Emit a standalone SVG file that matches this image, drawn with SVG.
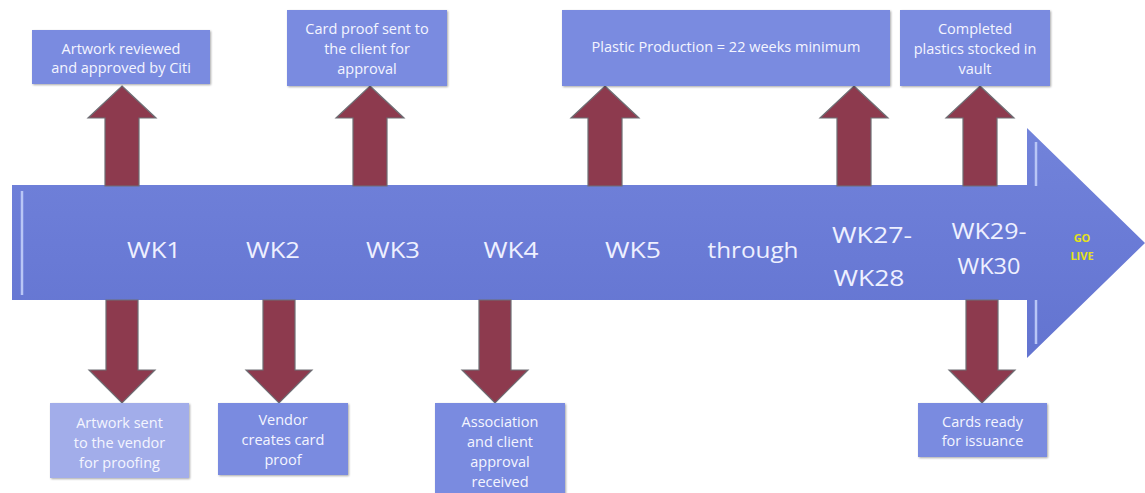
<svg xmlns="http://www.w3.org/2000/svg" width="1145" height="493" viewBox="0 0 1145 493">
  <defs>
    <linearGradient id="bodyGrad" x1="0" y1="0" x2="0" y2="1">
      <stop offset="0" stop-color="#7283da"/>
      <stop offset="0.5" stop-color="#6a7bd6"/>
      <stop offset="1" stop-color="#6374d0"/>
    </linearGradient>
    <path id="upArrow" d="M0,0 L34,32 L17,32 L17,100 L-17,100 L-17,32 L-34,32 Z"/>
    <path id="downArrow" d="M-16,0 L16,0 L16,70 L33,70 L0,103 L-33,70 L-16,70 Z"/>
    <filter id="shadow" x="-20%" y="-20%" width="140%" height="140%">
      <feGaussianBlur in="SourceAlpha" stdDeviation="1.2"/>
      <feOffset dx="1" dy="1" result="b"/>
      <feComponentTransfer><feFuncA type="linear" slope="0.35"/></feComponentTransfer>
      <feMerge><feMergeNode/><feMergeNode in="SourceGraphic"/></feMerge>
    </filter>
  </defs>
  <style>
    .box { fill: #7a8be0; filter: url(#shadow); }
    .boxLight { fill: #a2adea; filter: url(#shadow); }
    .note { font-family: "Open Sans", "Noto Sans", "Liberation Sans", sans-serif; font-size: 14.5px; fill: #f4f5ff; text-anchor: middle; dominant-baseline: central; }
    .wk { font-family: "Open Sans", "Noto Sans", "Liberation Sans", sans-serif; font-size: 21px; fill: #eef0ff; text-anchor: middle; }
    .golive { font-family: "Open Sans", "Liberation Sans", sans-serif; font-size: 11px; font-weight: bold; fill: #e6e21a; text-anchor: middle; }
    .red { fill: #8d3a4e; stroke: #6e6e74; stroke-width: 1.2; }
    .hl { stroke: #b9c6f6; stroke-width: 2.5; fill: none; }
  </style>

  <rect width="1145" height="493" fill="#ffffff"/>

  <g id="timeline">
    <path d="M12,185 L1027,185 L1027,128 L1145,243 L1027,358 L1027,300 L12,300 Z" fill="url(#bodyGrad)"/>
    <line class="hl" x1="22" y1="191" x2="22" y2="295"/>
    <line class="hl" x1="1036" y1="142" x2="1036" y2="186"/>
    <line class="hl" x1="1036" y1="300" x2="1036" y2="344"/>
    <text class="wk" x="154" y="258" textLength="54" lengthAdjust="spacingAndGlyphs">WK1</text>
    <text class="wk" x="273" y="258" textLength="54" lengthAdjust="spacingAndGlyphs">WK2</text>
    <text class="wk" x="393" y="258" textLength="54" lengthAdjust="spacingAndGlyphs">WK3</text>
    <text class="wk" x="511" y="258" textLength="55" lengthAdjust="spacingAndGlyphs">WK4</text>
    <text class="wk" x="633" y="258" textLength="56" lengthAdjust="spacingAndGlyphs">WK5</text>
    <text class="wk" x="753" y="258" textLength="91" lengthAdjust="spacingAndGlyphs">through</text>
    <text class="wk" x="872" y="243" textLength="80" lengthAdjust="spacingAndGlyphs">WK27-</text>
    <text class="wk" x="869" y="286" textLength="71" lengthAdjust="spacingAndGlyphs">WK28</text>
    <text class="wk" x="989" y="239" textLength="75" lengthAdjust="spacingAndGlyphs">WK29-</text>
    <text class="wk" x="989" y="274" textLength="63" lengthAdjust="spacingAndGlyphs">WK30</text>
    <text class="golive" x="1082" y="242">GO</text>
    <text class="golive" x="1082" y="260">LIVE</text>
  </g>

  <g id="connectors">
    <use href="#upArrow" class="red" x="122" y="86"/>
    <use href="#upArrow" class="red" x="370" y="86"/>
    <use href="#upArrow" class="red" x="605" y="86"/>
    <use href="#upArrow" class="red" x="854" y="86"/>
    <use href="#upArrow" class="red" x="980" y="86"/>
    <use href="#downArrow" class="red" x="122" y="300"/>
    <use href="#downArrow" class="red" x="279" y="300"/>
    <use href="#downArrow" class="red" x="495" y="300"/>
    <use href="#downArrow" class="red" x="982" y="300"/>
  </g>

  <g id="top1">
    <rect class="box" x="32" y="30" width="178" height="54"/>
    <text class="note" x="121" y="48">Artwork reviewed</text>
    <text class="note" x="121" y="67">and approved by Citi</text>
  </g>
  <g id="top2">
    <rect class="box" x="287" y="10" width="160" height="76"/>
    <text class="note" x="367" y="28">Card proof sent to</text>
    <text class="note" x="367" y="48">the client for</text>
    <text class="note" x="367" y="68">approval</text>
  </g>
  <g id="top3">
    <rect class="box" x="562" y="10" width="328" height="76"/>
    <text class="note" x="726" y="46">Plastic Production = 22 weeks minimum</text>
  </g>
  <g id="top4">
    <rect class="box" x="900" y="10" width="150" height="76"/>
    <text class="note" x="975" y="28">Completed</text>
    <text class="note" x="975" y="48">plastics stocked in</text>
    <text class="note" x="975" y="68">vault</text>
  </g>

  <g id="bottom1">
    <rect class="boxLight" x="50" y="403" width="139" height="75"/>
    <text class="note" x="119.5" y="422">Artwork sent</text>
    <text class="note" x="119.5" y="442">to the vendor</text>
    <text class="note" x="119.5" y="462">for proofing</text>
  </g>
  <g id="bottom2">
    <rect class="box" x="218" y="403" width="130" height="72"/>
    <text class="note" x="283" y="419">Vendor</text>
    <text class="note" x="283" y="439">creates card</text>
    <text class="note" x="283" y="459">proof</text>
  </g>
  <g id="bottom3">
    <rect class="box" x="435" y="403" width="130" height="95"/>
    <text class="note" x="500" y="421">Association</text>
    <text class="note" x="500" y="441">and client</text>
    <text class="note" x="500" y="461">approval</text>
    <text class="note" x="500" y="481">received</text>
  </g>
  <g id="bottom4">
    <rect class="box" x="918" y="403" width="129" height="54"/>
    <text class="note" x="982.5" y="421">Cards ready</text>
    <text class="note" x="982.5" y="440">for issuance</text>
  </g>
</svg>
